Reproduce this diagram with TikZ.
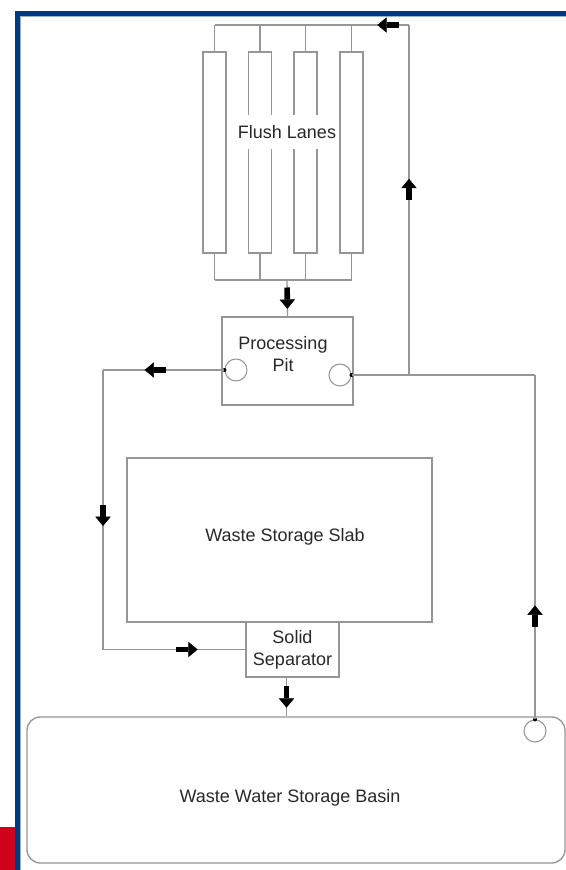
\documentclass[tikz,border=0pt]{standalone}
\usepackage{fontspec}
\setmainfont{Liberation Sans}
\usetikzlibrary{arrows.meta,decorations.markings}
\definecolor{framenavy}{RGB}{0,58,128}
\definecolor{framered}{RGB}{208,2,27}
\definecolor{pipegray}{RGB}{150,150,150}
\definecolor{labelgray}{RGB}{40,40,40}
\tikzset{
  pipe/.style={draw=pipegray, line width=1pt},
  box/.style={draw=pipegray, line width=1pt, fill=white},
  lane/.style={box, minimum width=17.25pt, minimum height=150.75pt, inner sep=0pt},
  valve/.style={circle, draw=pipegray, line width=0.8pt, minimum size=16.5pt, inner sep=0pt},
  dot/.style={circle, fill=black, minimum size=3pt, inner sep=0pt},
  txt/.style={text=labelgray, font=\fontsize{13.5}{16.5}\selectfont, align=center},
  arrowbar/.style={draw=black, line width=4.2pt, -{Triangle[width=11.5pt,length=7pt,line width=0.4pt]}},
  flowmark/.style={postaction={decorate, decoration={markings,
    mark=at position #1 with {\draw[arrowbar] (-8pt,0pt) -- (8pt,0pt);}}}}
}
\begin{document}
\begin{tikzpicture}[x=0.75pt, y=-0.75pt]
\useasboundingbox (0,0) rectangle (566,870);
\fill[framered] (0,827) rectangle (15,870);
\draw[framenavy, line width=3.75pt] (17.5,870) -- (17.5,13.5) -- (566,13.5);
\draw[framenavy!40, line width=0.75pt] (20.5,870) -- (20.5,16.5) -- (566,16.5);

\node[lane] (lane1) at (214.5,152.5) {};
\node[lane] (lane2) at (260,152.5) {};
\node[lane] (lane3) at (305.5,152.5) {};
\node[lane] (lane4) at (351.5,152.5) {};
\node[txt, fill=white, inner xsep=1pt, inner ysep=8pt] (flush) at (287,132) {Flush Lanes};

\coordinate (bus) at (287,280);
\coordinate (rtop) at (409,25);
\coordinate (rbase) at (409,375);
\coordinate (rc) at (535,375);
\coordinate (lc1) at (103,370);
\coordinate (lc2) at (103,649.5);

\foreach \i in {1,...,4} {
  \draw[pipe] (lane\i.north) -- (lane\i.north |- rtop);
  \draw[pipe] (lane\i.south) -- (lane\i.south |- bus);
}
\draw[pipe] (lane1.south |- bus) -- (lane4.south |- bus);

\node[box, minimum width=98.25pt, minimum height=66pt] (pit) at (287.5,361) {};
\node[txt] (pitlabel) at (283,354) {Processing\\Pit};
\node[valve] (vin) at (236,370) {};
\node[dot] at (vin.west) {};
\node[valve] (vout) at (340,375) {};
\node[dot] at (vout.east) {};

\node[box, minimum width=228.75pt, minimum height=123pt] (slab) at (279.5,540) {};
\node[txt] (slablabel) at (285,537) {Waste Storage Slab};
\node[box, txt, minimum width=69.75pt, minimum height=41.25pt, inner sep=0pt] (sep) at (292.5,649.5) {Solid\\Separator};

\node[box, rounded corners=10pt, minimum width=403.5pt, minimum height=109.5pt] (basin) at (296,790) {};
\node[txt] (basinlabel) at (290,798) {Waste Water Storage Basin};
\node[valve] (bvalve) at (535,731) {};
\node[dot] at (bvalve.north) {};

\draw[pipe, flowmark=0.5] (bus) -- (pit.north);
\draw[pipe] (vout.east) -- (rc);
\draw[pipe, flowmark=0.53] (rbase) -- (rtop);
\draw[pipe, flowmark=0.108] (rtop) -- (lane1.north |- rtop);
\draw[pipe, flowmark=0.3] (bvalve.north) -- (rc);
\draw[pipe, flowmark=0.57] (vin.west) -- (lc1);
\draw[pipe, flowmark=0.52] (lc1) -- (lc2);
\draw[pipe, flowmark=0.59] (lc2) -- (sep.west);
\draw[pipe, flowmark=0.5] ([xshift=-4.5pt]sep.south) -- ([xshift=-4.5pt]sep.south |- basin.north);
\end{tikzpicture}
\end{document}
